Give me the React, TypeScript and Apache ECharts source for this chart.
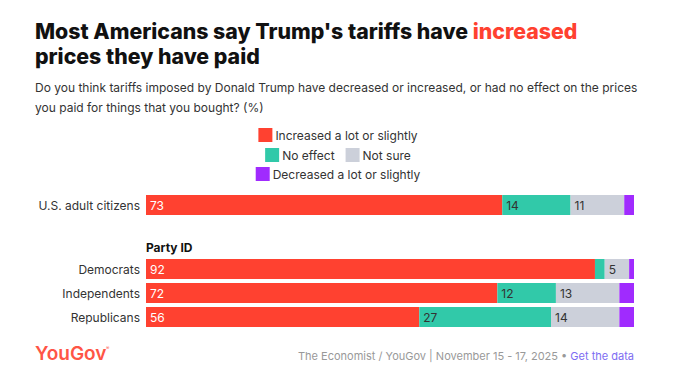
import React, { useEffect, useRef } from "react";
import * as echarts from "echarts";

const overallCategories = ["U.S. adult citizens"];
const partyCategories = ["Democrats", "Independents", "Republicans"];

const seriesNames = [
  "Increased a lot or slightly",
  "No effect",
  "Not sure",
  "Decreased a lot or slightly",
];

// values: [overall, Democrats, Independents, Republicans]
const increasedValues = [73, 92, 72, 56];
const noEffectValues = [14, 2, 12, 27];
const notSureValues = [11, 5, 13, 14];
const decreasedValues = [2, 1, 3, 3];

const seriesValues = [increasedValues, noEffectValues, notSureValues, decreasedValues];
const seriesColors = ["#ff4130", "#31c9a9", "#ccd0da", "#a02bfe"];
const labelColors = ["#ffffff", "#333333", "#333333", "#333333"];

const FONT = "Inter, 'Noto Sans', sans-serif";

export default function App() {
  const ref = useRef<HTMLDivElement>(null);

  useEffect(() => {
    document.body.style.margin = "0";
    if (!ref.current) return;
    const chart = echarts.init(ref.current, undefined, { renderer: "svg" });

    const series: any[] = [];
    seriesNames.forEach((name, i) => {
      const label = {
        show: true,
        position: "insideLeft",
        distance: 4,
        color: labelColors[i],
        fontSize: 12,
        fontFamily: FONT,
        formatter: (p: any) => (p.value >= 5 ? String(p.value) : ""),
      };
      series.push({
        type: "bar",
        name,
        stack: "a",
        xAxisIndex: 0,
        yAxisIndex: 0,
        barWidth: 20,
        itemStyle: { color: seriesColors[i] },
        label,
        data: seriesValues[i].slice(0, 1),
      });
      series.push({
        type: "bar",
        name,
        stack: "b",
        xAxisIndex: 1,
        yAxisIndex: 1,
        barWidth: 20,
        itemStyle: { color: seriesColors[i] },
        label,
        data: seriesValues[i].slice(1),
      });
    });

    const legendBase = {
      left: "center",
      icon: "rect",
      itemWidth: 14,
      itemHeight: 14,
      itemGap: 11,
      selectedMode: false,
      textStyle: { fontSize: 12, color: "#333", fontFamily: FONT, padding: [0, 0, 0, -2] },
    };

    const yAxisBase = {
      type: "category",
      inverse: true,
      axisLine: { show: false },
      axisTick: { show: false },
      axisLabel: { color: "#333", fontSize: 12, fontFamily: FONT, margin: 6 },
    };
    const xAxisBase = {
      type: "value",
      min: 0,
      max: 100,
      show: false,
    };

    chart.setOption({
      animation: false,
      textStyle: { fontFamily: FONT },
      grid: [
        { left: 146, right: 42, top: 193, height: 24 },
        { left: 146, right: 42, top: 257, height: 72 },
      ],
      xAxis: [
        { ...xAxisBase, gridIndex: 0 },
        { ...xAxisBase, gridIndex: 1 },
      ],
      yAxis: [
        { ...yAxisBase, gridIndex: 0, data: overallCategories },
        { ...yAxisBase, gridIndex: 1, data: partyCategories },
      ],
      legend: [
        { ...legendBase, top: 123, data: [seriesNames[0]] },
        { ...legendBase, top: 143, data: [seriesNames[1], seriesNames[2]] },
        { ...legendBase, top: 162, data: [seriesNames[3]] },
      ],
      graphic: [
        {
          type: "text",
          left: 35,
          top: 20,
          style: {
            text: "{a|Most Americans say Trump's tariffs have }{b|increased}\n{a|prices they have paid}",
            rich: {
              a: { fontSize: 21.3, fontWeight: 800, fill: "#111", fontFamily: FONT, lineHeight: 25 },
              b: { fontSize: 21.3, fontWeight: 800, fill: "#ff4130", fontFamily: FONT, lineHeight: 25 },
            },
          },
        },
        {
          type: "text",
          left: 35,
          top: 77,
          style: {
            text: "Do you think tariffs imposed by Donald Trump have decreased or increased, or had no effect on the prices\nyou paid for things that you bought? (%)",
            fontSize: 12,
            lineHeight: 20,
            fill: "#333",
            fontFamily: FONT,
          },
        },
        {
          type: "text",
          left: 146,
          top: 241,
          style: {
            text: "Party ID",
            fontSize: 12,
            fontWeight: 700,
            fill: "#111",
            fontFamily: FONT,
          },
        },
        {
          type: "text",
          left: 35,
          top: 344,
          style: {
            text: "YouGov",
            fontSize: 19,
            fontWeight: 600,
            fill: "#ff5546",
            fontFamily: FONT,
          },
        },
        {
          type: "text",
          left: 106,
          top: 345,
          style: {
            text: "®",
            fontSize: 5,
            fill: "#ff5546",
            fontFamily: FONT,
          },
        },
        {
          type: "text",
          right: 42,
          top: 350,
          style: {
            text: "{a|The Economist / YouGov | November 15 - 17, 2025 • }{b|Get the data}",
            rich: {
              a: { fontSize: 11, fill: "#999", fontFamily: FONT },
              b: { fontSize: 11, fill: "#7d6cf2", fontFamily: FONT },
            },
          },
        },
      ],
      series,
    });

    return () => chart.dispose();
  }, []);

  return <div ref={ref} style={{ width: 676, height: 384 }} />;
}
